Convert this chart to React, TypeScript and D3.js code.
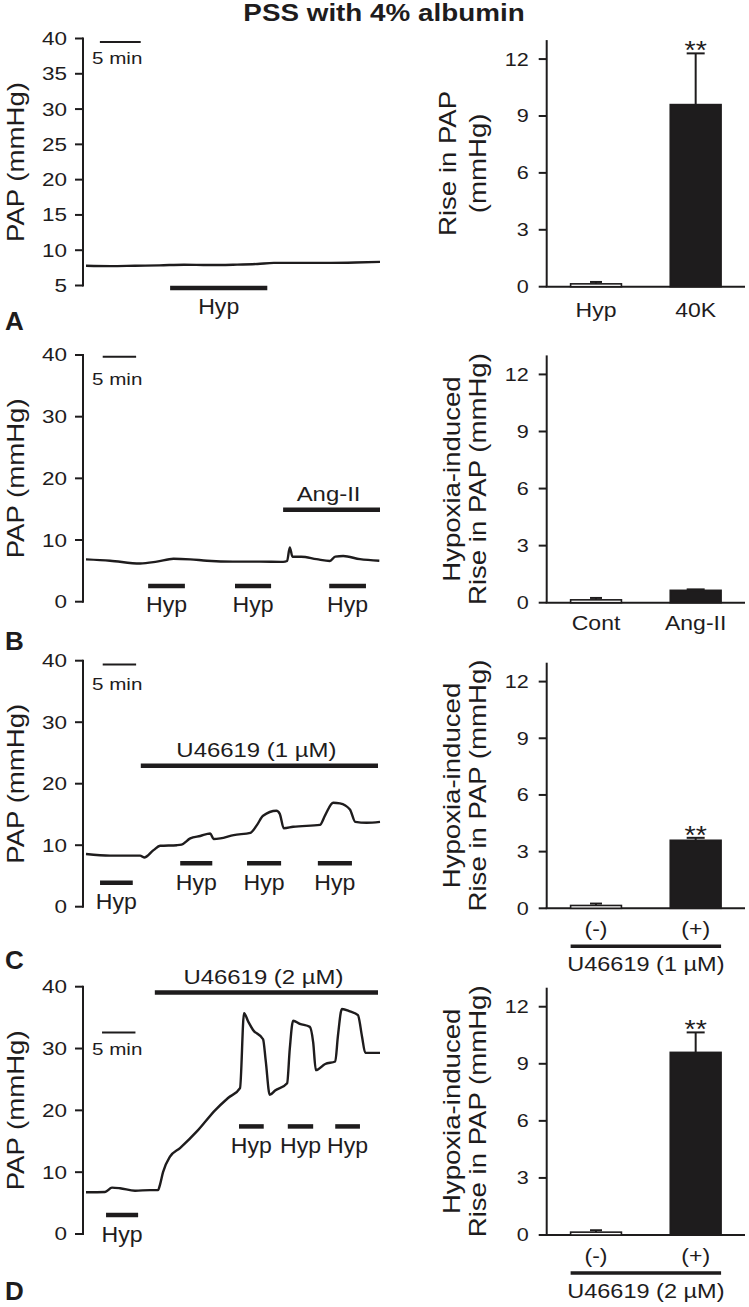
import React from 'react';
import * as d3 from 'd3';

// ---------- DATA ----------
const title = 'PSS with 4% albumin';
const panelLetters = ['A', 'B', 'C', 'D'];

// Traces: [time (min), PAP (mmHg)]
const traceA: [number, number][] = [[0, 7.8], [3, 7.75], [6, 7.8], [9, 7.85], [12, 7.95], [15, 7.9], [18, 7.95], [21, 8.05], [23, 8.2], [26, 8.2], [30, 8.2], [33, 8.25], [36, 8.35]];
const traceB: [number, number][] = [[0, 6.87], [3.6, 6.65], [8.1, 6.2], [10.6, 6.5], [13.1, 6.97], [15.6, 6.87], [18.1, 6.65], [22, 6.5], [26, 6.5], [29.5, 6.45], [30.1, 6.6], [30.5, 8.8], [30.9, 7.3], [32.2, 7.3], [34.5, 6.9], [36.5, 6.6], [37.3, 7.3], [38.5, 7.4], [41, 6.9], [43.9, 6.65]];
const traceC: [number, number][] = [[0, 8.57], [3.6, 8.3], [8.1, 8.3], [8.7, 8.0], [10.1, 9.2], [11.1, 9.9], [13.6, 10.0], [14.3, 10.1], [15.6, 11.1], [17.1, 11.5], [18.6, 11.9], [19.1, 11.0], [20.1, 11.1], [22.1, 11.65], [24.6, 12.0], [25.6, 13.3], [26.5, 14.8], [28.5, 15.6], [29.0, 15.1], [29.6, 12.75], [31.0, 13.0], [35.0, 13.3], [35.8, 14.9], [37.0, 16.9], [38.0, 16.8], [39.5, 15.8], [40.3, 13.8], [42.0, 13.65], [44, 13.8]];
const traceD: [number, number][] = [[0, 6.75], [2.84, 6.8], [3.89, 7.5], [5.09, 7.4], [7.34, 7.0], [9.58, 7.1], [10.78, 7.1], [11.08, 8.0], [11.53, 10.0], [12.57, 12.5], [14.07, 13.9], [16.77, 16.8], [19.31, 20.0], [21.26, 22.0], [23.05, 23.6], [23.65, 35.7], [24.3, 34.3], [25.0, 33.0], [26.5, 31.5], [26.9, 28], [27.5, 22.5], [28.3, 23.2], [30.1, 24.4], [30.5, 30], [31.0, 34.5], [32.0, 34.0], [33.5, 33.5], [34.0, 31], [34.4, 26.5], [35.8, 27.5], [37.3, 27.9], [37.7, 32], [38.3, 36.4], [39.5, 36.0], [40.7, 35.4], [41.3, 32], [41.8, 29.3], [44.0, 29.3]];

// Trace time spans (min)
const traceDurations = [36, 44, 44, 44];
// Left y domains and ticks
const leftDomains: [number, number][] = [[5, 40], [0, 40], [0, 40], [0, 40]];
const leftTicksA = [5, 10, 15, 20, 25, 30, 35, 40];
const leftTicksBCD = [0, 10, 20, 30, 40];

// Hypoxia periods: [start, end, level]
const hypA: [number, number, number][] = [[10.3, 22.2, 4.65]];
const hypB: [number, number, number][] = [[9.3, 14.8, 2.55], [22.3, 27.7, 2.55], [36.4, 41.9, 2.55]];
const hypC: [number, number, number][] = [[2.1, 7.0, 3.9], [14.1, 18.9, 7.05], [24.1, 29.2, 7.05], [34.7, 39.8, 7.05]];
const hypD: [number, number, number][] = [[3.0, 7.8, 3.07], [22.9, 26.6, 17.4], [30.2, 34.0, 17.4], [37.3, 41.0, 17.4]];

// Drug periods: [start, end, level, label]
const drugB: [number, number, number, string] = [29.5, 44, 14.9, 'Ang-II'];
const drugC: [number, number, number, string] = [8.2, 43.7, 22.9, 'U46619 (1 µM)'];
const drugD: [number, number, number, string] = [10.3, 43.7, 39.05, 'U46619 (2 µM)'];

// 5 min scale bars: [start, level]
const scaleBars: [number, number][] = [[1.7, 39.5], [2.5, 39.7], [2.5, 39.4], [2.4, 32.6]];

// Bar charts
const barCatsA = ['Hyp', '40K'];
const barCatsB = ['Cont', 'Ang-II'];
const barCatsC = ['(-)', '(+)'];
const barCatsD = ['(-)', '(+)'];
const barValsA = [0.15, 9.6];
const barValsB = [0.15, 0.65];
const barValsC = [0.15, 3.6];
const barValsD = [0.15, 9.6];
const barErrA = [0.1, 2.7];
const barErrB = [0.1, 0.05];
const barErrC = [0.1, 0.13];
const barErrD = [0.1, 1.05];
const barSig = ['', '**'];
const sigByPanel = [true, false, true, true];
const barTicks = [0, 3, 6, 9, 12];
const barDomain: [number, number] = [0, 13];
const barGroupLabels = ['', '', 'U46619 (1 µM)', 'U46619 (2 µM)'];
const barYLabelsA = ['Rise in PAP', '(mmHg)'];
const barYLabelsBCD = ['Hypoxia-induced', 'Rise in PAP (mmHg)'];
const leftYLabel = 'PAP (mmHg)';

// ---------- LAYOUT ----------
const W = 749, H = 1307;
const FONT = "'Liberation Sans', Arial, Helvetica, sans-serif";
const INK = '#1e1c1d';

const layouts = [
  { lb: 285.5, lt: 38.5, rb: 286.7, rt: 40.1, letterY: 330, sbOff: 21.5, ylab1: 456, catOff: 30 },
  { lb: 601.7, lt: 355, rb: 602.7, rt: 355.4, letterY: 650, sbOff: 28, ylab1: 460, catOff: 27 },
  { lb: 906.7, lt: 660.7, rb: 908.3, rt: 662.7, letterY: 969, sbOff: 26, ylab1: 460, catOff: 28 },
  { lb: 1234, lt: 986.7, rb: 1235, rt: 987.7, letterY: 1300, sbOff: 23, ylab1: 460, catOff: 28 },
];

const LX = 83; // left axis x
const TX0 = 86, TX1 = 380;
const RX = 546.7, RX1 = 745;

type TxtProps = { x: number; y: number; size: number; sx?: number; anchor?: string; rot?: number; bold?: boolean; dy?: string; children: React.ReactNode };
function Txt({ x, y, size, sx = 1, anchor = 'middle', rot = 0, bold = false, dy, children }: TxtProps) {
  return (
    <text transform={`translate(${x},${y}) rotate(${rot}) scale(${sx},1)`} fontSize={size} textAnchor={anchor as any}
      fontFamily={FONT} fontWeight={bold ? 'bold' : 'normal'} fill={INK} dy={dy}>{children}</text>
  );
}

function TracePanel({ idx, trace, hyp, drug }: { idx: number; trace: [number, number][]; hyp: [number, number, number][]; drug?: [number, number, number, string] }) {
  const L = layouts[idx];
  const x = d3.scaleLinear().domain([0, traceDurations[idx]]).range([TX0, TX1]);
  const y = d3.scaleLinear().domain(leftDomains[idx]).range([L.lb, L.lt]);
  const ticks = idx === 0 ? leftTicksA : leftTicksBCD;
  const line = d3.line<[number, number]>().x(d => x(d[0])).y(d => y(d[1])).curve(d3.curveMonotoneX);
  const [sbStart, sbLevel] = scaleBars[idx];
  return (
    <g>
      <line x1={LX} x2={LX} y1={y(leftDomains[idx][0]) + 1} y2={y(leftDomains[idx][1]) - 1} stroke={INK} strokeWidth={2} />
      {ticks.map(t => (
        <g key={t}>
          <line x1={LX - 8} x2={LX} y1={y(t)} y2={y(t)} stroke={INK} strokeWidth={2} />
          <Txt x={LX - 16} y={y(t)} size={18} sx={1.25} anchor="end" dy="0.36em">{t}</Txt>
        </g>
      ))}
      <Txt x={24} y={(L.lb + L.lt) / 2} size={23} sx={1.2} rot={-90}>{leftYLabel}</Txt>
      {/* scale bar */}
      <line x1={x(sbStart)} x2={x(sbStart + 5)} y1={y(sbLevel)} y2={y(sbLevel)} stroke={INK} strokeWidth={2} />
      <Txt x={92} y={y(sbLevel) + L.sbOff} size={16.5} sx={1.25} anchor="start">5 min</Txt>
      {/* trace */}
      <path d={line(trace) || ''} fill="none" stroke={INK} strokeWidth={2.4} strokeLinejoin="round" />
      {/* hypoxia bars */}
      {hyp.map((h, i) => (
        <g key={i}>
          <line x1={x(h[0])} x2={x(h[1])} y1={y(h[2])} y2={y(h[2])} stroke={INK} strokeWidth={4.5} />
          <Txt x={(x(h[0]) + x(h[1])) / 2} y={y(h[2]) + 26.5} size={22} sx={1.05}>Hyp</Txt>
        </g>
      ))}
      {drug && (
        <g>
          <line x1={x(drug[0])} x2={x(drug[1])} y1={y(drug[2])} y2={y(drug[2])} stroke={INK} strokeWidth={4.5} />
          <Txt x={(x(drug[0]) + x(drug[1])) / 2 - 3} y={y(drug[2]) - 8.5} size={21} sx={1.14}>{drug[3]}</Txt>
        </g>
      )}
      <Txt x={5} y={L.letterY} size={26} anchor="start" bold>{panelLetters[idx]}</Txt>
    </g>
  );
}

function BarPanel({ idx, cats, vals, errs }: { idx: number; cats: string[]; vals: number[]; errs: number[] }) {
  const L = layouts[idx];
  const y = d3.scaleLinear().domain(barDomain).range([L.rb, L.rt]);
  const xb = d3.scaleBand().domain(cats).range([RX, RX1]).paddingInner(0.49).paddingOuter(0.24);
  const bw = xb.bandwidth();
  const labels = idx === 0 ? barYLabelsA : barYLabelsBCD;
  const cy = (L.rb + L.rt) / 2;
  const group = barGroupLabels[idx];
  const catBase = L.rb + L.catOff;
  return (
    <g>
      <line x1={RX} x2={RX} y1={L.rb} y2={L.rt} stroke={INK} strokeWidth={2} />
      <line x1={RX - 1} x2={RX1} y1={L.rb} y2={L.rb} stroke={INK} strokeWidth={2} />
      {barTicks.map(t => (
        <g key={t}>
          <line x1={RX - 8} x2={RX} y1={y(t)} y2={y(t)} stroke={INK} strokeWidth={2} />
          <Txt x={RX - 18} y={y(t)} size={18} sx={1.2} anchor="end" dy="0.36em">{t}</Txt>
        </g>
      ))}
      <Txt x={L.ylab1} y={cy} size={23} sx={1.2} rot={-90}>{labels[0]}</Txt>
      <Txt x={486} y={cy} size={23} sx={1.2} rot={-90}>{labels[1]}</Txt>
      {cats.map((c, i) => {
        const x0 = xb(c)!;
        const xc = x0 + bw / 2;
        const filled = i === 1;
        const top = y(vals[i]);
        const et = y(vals[i] + errs[i]);
        return (
          <g key={c}>
            <line x1={xc} x2={xc} y1={top} y2={et} stroke={INK} strokeWidth={2} />
            <line x1={xc - (filled ? 9 : 6)} x2={xc + (filled ? 9 : 6)} y1={et} y2={et} stroke={INK} strokeWidth={2} />
            <rect x={x0} y={top} width={bw} height={L.rb - top} fill={filled ? INK : '#fff'} stroke={INK} strokeWidth={1.6} />
            {filled && sigByPanel[idx] && (
              <Txt x={xc} y={et + 6} size={26} sx={1.1}>{barSig[i]}</Txt>
            )}
            <Txt x={xc} y={catBase} size={20} sx={1.15}>{c}</Txt>
          </g>
        );
      })}
      {group && (
        <g>
          <line x1={xb(cats[0])!} x2={xb(cats[1])! + bw} y1={L.rb + 38} y2={L.rb + 38} stroke={INK} strokeWidth={3.5} />
          <Txt x={(xb(cats[0])! + xb(cats[1])! + bw) / 2} y={L.rb + 63} size={21} sx={1.12}>{group}</Txt>
        </g>
      )}
    </g>
  );
}

export default function App() {
  return (
    <svg width={W} height={H} viewBox={`0 0 ${W} ${H}`} style={{ position: 'absolute', left: 0, top: 0, background: '#fff' }}>
      <rect x={0} y={0} width={W} height={H} fill="#fff" />
      <Txt x={384} y={21} size={23} sx={1.21} bold>{title}</Txt>
      <TracePanel idx={0} trace={traceA} hyp={hypA} />
      <TracePanel idx={1} trace={traceB} hyp={hypB} drug={drugB} />
      <TracePanel idx={2} trace={traceC} hyp={hypC} drug={drugC} />
      <TracePanel idx={3} trace={traceD} hyp={hypD} drug={drugD} />
      <BarPanel idx={0} cats={barCatsA} vals={barValsA} errs={barErrA} />
      <BarPanel idx={1} cats={barCatsB} vals={barValsB} errs={barErrB} />
      <BarPanel idx={2} cats={barCatsC} vals={barValsC} errs={barErrC} />
      <BarPanel idx={3} cats={barCatsD} vals={barValsD} errs={barErrD} />
    </svg>
  );
}
